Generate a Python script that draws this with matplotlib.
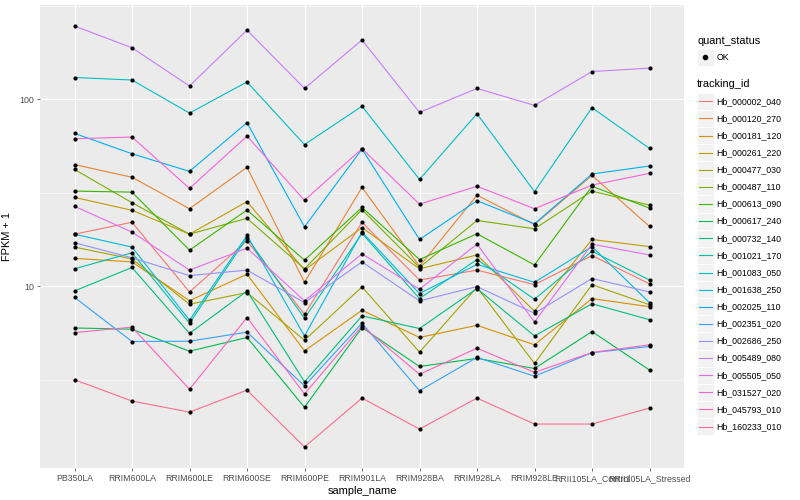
import numpy as np
import matplotlib
matplotlib.use("Agg")
import matplotlib.pyplot as plt
from matplotlib.patches import Rectangle

plt.rcParams['font.family'] = ['Liberation Sans', 'DejaVu Sans']

samples = ["PB350LA", "RRIM600LA", "RRIM600LE", "RRIM600SE", "RRIM600PE",
           "RRIM901LA", "RRIM928BA", "RRIM928LA", "RRIM928LE",
           "RRII105LA_Control", "RRII105LA_Stressed"]

genes = ["Hb_000002_040", "Hb_000120_270", "Hb_000181_120", "Hb_000261_220",
         "Hb_000477_030", "Hb_000487_110", "Hb_000613_090", "Hb_000617_240",
         "Hb_000732_140", "Hb_001021_170", "Hb_001083_050", "Hb_001638_250",
         "Hb_002025_110", "Hb_002351_020", "Hb_002686_250", "Hb_005489_080",
         "Hb_005505_050", "Hb_031527_020", "Hb_045793_010", "Hb_160233_010"]

# FPKM + 1, one list per tracking_id (same order as samples)
hb_000002_040 = [19.0, 22.0, 9.32, 17.5, 7.08, 22.0, 10.8, 12.2, 10.2, 14.6, 10.3]
hb_000120_270 = [44.8, 38.3, 26.0, 43.3, 10.5, 33.8, 12.8, 30.7, 21.4, 39.2, 20.9]
hb_000181_120 = [14.1, 13.5, 8.37, 11.6, 4.51, 7.44, 5.32, 6.18, 4.86, 8.59, 7.77]
hb_000261_220 = [29.9, 25.5, 19.0, 28.4, 12.2, 20.6, 12.4, 14.7, 7.35, 17.8, 16.3]
hb_000477_030 = [16.2, 14.0, 8.01, 9.25, 5.14, 9.92, 4.44, 9.88, 3.86, 10.2, 7.96]
hb_000487_110 = [42.2, 28.0, 19.0, 23.1, 12.4, 25.7, 12.6, 22.5, 20.3, 32.3, 27.2]
hb_000613_090 = [32.3, 31.9, 15.6, 25.6, 13.8, 26.4, 13.9, 19.1, 13.0, 34.3, 26.2]
hb_000617_240 = [5.98, 5.89, 4.49, 5.32, 2.25, 6.01, 3.72, 4.11, 3.63, 5.72, 3.56]
hb_000732_140 = [9.44, 12.6, 5.59, 9.44, 3.08, 6.94, 5.94, 9.72, 5.42, 8.06, 6.62]
hb_001021_170 = [12.4, 15.1, 6.34, 18.2, 6.74, 19.2, 8.59, 13.9, 8.52, 15.4, 10.8]
hb_001083_050 = [131, 127, 84.5, 124, 57.3, 92.0, 37.3, 83.8, 32.1, 90.3, 54.7]
hb_001638_250 = [19.0, 16.2, 6.58, 18.7, 5.42, 19.5, 9.14, 13.1, 10.5, 16.3, 8.16]
hb_002025_110 = [65.8, 51.2, 41.2, 75.1, 20.8, 54.2, 17.8, 28.7, 21.6, 39.9, 44.0]
hb_002351_020 = [8.73, 5.06, 5.08, 5.68, 2.93, 6.34, 2.76, 4.16, 3.30, 4.41, 4.76]
hb_002686_250 = [17.1, 14.2, 11.4, 12.2, 8.18, 13.5, 8.35, 9.96, 7.17, 11.0, 9.32]
hb_005489_080 = [247, 189, 118, 235, 114.5, 208, 85.2, 114.5, 92.9, 141, 147]
hb_005505_050 = [26.8, 19.5, 12.2, 16.0, 8.35, 14.9, 9.64, 16.8, 6.44, 16.8, 14.7]
hb_031527_020 = [61.6, 62.9, 33.4, 63.6, 28.8, 54.5, 27.5, 34.3, 26.0, 34.8, 40.2]
hb_045793_010 = [5.65, 6.04, 2.81, 6.80, 2.65, 6.13, 3.38, 4.66, 3.46, 4.42, 4.86]
hb_160233_010 = [3.16, 2.43, 2.12, 2.78, 1.38, 2.52, 1.72, 2.52, 1.83, 1.83, 2.23]

series = [hb_000002_040, hb_000120_270, hb_000181_120, hb_000261_220,
          hb_000477_030, hb_000487_110, hb_000613_090, hb_000617_240,
          hb_000732_140, hb_001021_170, hb_001083_050, hb_001638_250,
          hb_002025_110, hb_002351_020, hb_002686_250, hb_005489_080,
          hb_005505_050, hb_031527_020, hb_045793_010, hb_160233_010]

# ggplot default hue palette, 20 levels
colors = ["#F8766D", "#EA8331", "#D89000", "#C09B00", "#A3A500", "#7CAE00",
          "#39B600", "#00BB4E", "#00BF7D", "#00C1A3", "#00BFC4", "#00BAE0",
          "#00B0F6", "#35A2FF", "#9590FF", "#C77CFF", "#E76BF3", "#FA62DB",
          "#FF62BC", "#FF6C90"]

fig = plt.figure(figsize=(8, 5), dpi=100)
ax = fig.add_axes([40 / 800, 32 / 500, 644 / 800, 463 / 500])
ax.set_facecolor("#EBEBEB")

x = np.arange(len(samples))
for vals, col in zip(series, colors):
    ax.plot(x, vals, color=col, lw=0.8, zorder=2)
for vals in series:
    ax.scatter(x, vals, s=9, color="black", zorder=3, linewidths=0)

ax.set_yscale("log")
allv = np.log10(np.concatenate([np.array(s, float) for s in series]))
lo, hi = allv.min(), allv.max()
pad = 0.05 * (hi - lo)
ax.set_ylim(10 ** (lo - pad), 10 ** (hi + pad))
ax.set_xlim(-0.6, len(samples) - 0.4)

ax.set_yticks([10, 100])
ax.set_yticklabels(["10", "100"])
ax.set_yticks([10 ** 0.5, 10 ** 1.5, 10 ** 2.5], minor=True)
ax.yaxis.set_minor_formatter(plt.NullFormatter())
ax.set_xticks(x)
ax.set_xticklabels(samples)

ax.grid(True, which="major", color="white", lw=0.8, zorder=0)
ax.grid(True, which="minor", axis="y", color="white", lw=0.4, zorder=0)
ax.set_axisbelow(True)
for sp in ax.spines.values():
    sp.set_visible(False)
ax.tick_params(which="major", length=2.2, width=0.5, color="#333333",
               labelsize=6.35, labelcolor="#4D4D4D", pad=2)
ax.tick_params(which="minor", length=0)

ax.set_xlabel("sample_name", fontsize=7.9, labelpad=2)
ax.set_ylabel("FPKM + 1", fontsize=7.9, labelpad=5)

# legend drawn in pixel coordinates
lax = fig.add_axes([0, 0, 1, 1])
lax.set_xlim(0, 800)
lax.set_ylim(500, 0)
lax.axis("off")

lax.text(697, 40.5, "quant_status", fontsize=7.9, va="center", ha="left")
lax.add_patch(Rectangle((697, 49), 16.5, 16.5, facecolor="#F2F2F2",
                        edgecolor="white", lw=0.5))
lax.plot([705.25], [57.25], "o", color="black", ms=3)
lax.text(716.5, 57.25, "OK", fontsize=6.35, va="center", ha="left")

lax.text(697, 84, "tracking_id", fontsize=7.9, va="center", ha="left")
step = 17.12
for i, (name, col) in enumerate(zip(genes, colors)):
    yc = 101.3 + i * step
    lax.add_patch(Rectangle((697, yc - step / 2), 16.5, step,
                            facecolor="#F2F2F2", edgecolor="white", lw=0.5))
    lax.plot([698.5, 711.5], [yc, yc], color=col, lw=0.8)
    lax.text(716.5, yc, name, fontsize=6.35, va="center", ha="left")

fig.savefig("out.png", dpi=100)
